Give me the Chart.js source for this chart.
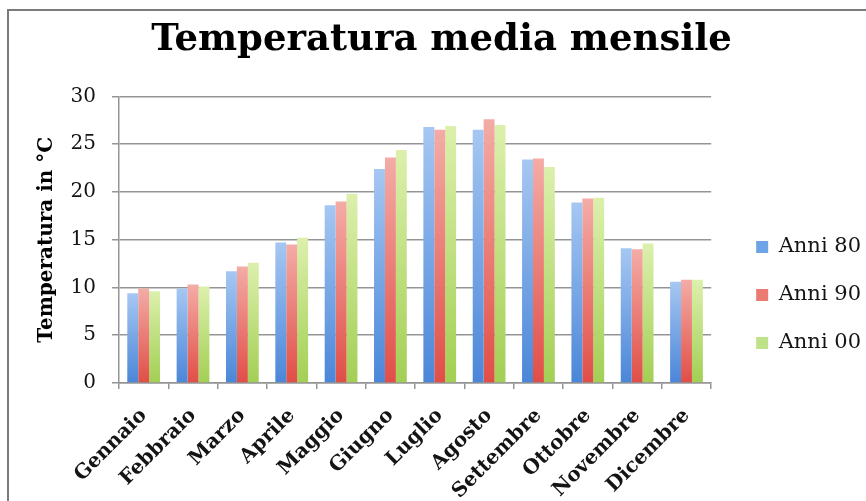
<!DOCTYPE html>
<html>
<head>
<meta charset="utf-8">
<title>Temperatura media mensile</title>
<script src="https://cdn.jsdelivr.net/npm/chart.js@4.4.1/dist/chart.umd.min.js"></script>
<style>
  html, body { margin: 0; padding: 0; background: #fff; width: 866px; height: 501px; overflow: hidden; }
  #frame { position: absolute; left: 7px; top: 9px; width: 880px; height: 520px;
           border-left: 2px solid #7b7b7b; border-top: 2px solid #7b7b7b; }
  #frame canvas { position: absolute; left: 0; top: 0; }
</style>
</head>
<body>
<div id="frame"><canvas id="grafico" width="866" height="490"></canvas></div>
<script>
// Mesi dell'anno (categorie)
const mesi = ['Gennaio', 'Febbraio', 'Marzo', 'Aprile', 'Maggio', 'Giugno',
              'Luglio', 'Agosto', 'Settembre', 'Ottobre', 'Novembre', 'Dicembre'];

// Temperature medie mensili (°C) per decennio
const anni80 = [9.4, 9.9, 11.7, 14.7, 18.6, 22.4, 26.8, 26.5, 23.4, 18.9, 14.1, 10.6];
const anni90 = [9.9, 10.3, 12.2, 14.5, 19.0, 23.6, 26.5, 27.6, 23.5, 19.3, 14.0, 10.8];
const anni00 = [9.6, 10.1, 12.6, 15.2, 19.8, 24.4, 26.9, 27.0, 22.6, 19.4, 14.6, 10.8];

// Etichette della legenda e dell'asse
const serie = ['Anni 80', 'Anni 90', 'Anni 00'];
const yTicks = [0, 5, 10, 15, 20, 25, 30];

const GRID = '#959595';
const TEXT = '#141414';

// colori: [chiaro in alto, scuro in basso, pieno per la legenda]
const palette = [
  ['#a6c7f2', '#4a86d8', '#6ea3e6'],
  ['#f4aca6', '#e04e46', '#eb7a72'],
  ['#dcf0ac', '#a2cf54', '#bfe288']
];

// sfumatura verticale su ogni singola barra
function sfumatura(chiaro, scuro) {
  return (ctx) => {
    const chart = ctx.chart;
    const y = chart.scales && chart.scales.y;
    if (!chart.chartArea || !y || ctx.type !== 'data') return scuro;
    const base = y.getPixelForValue(0);
    const cima = y.getPixelForValue(ctx.raw);
    if (!isFinite(base) || !isFinite(cima) || base === cima) return scuro;
    const g = chart.ctx.createLinearGradient(0, cima, 0, base);
    g.addColorStop(0, chiaro);
    g.addColorStop(1, scuro);
    return g;
  };
}

const valori = [anni80, anni90, anni00];
const datasets = valori.map((v, i) => ({
  label: serie[i],
  data: v,
  backgroundColor: sfumatura(palette[i][0], palette[i][1]),
  borderWidth: 0,
  barPercentage: 1.0,
  categoryPercentage: 0.664
}));

// sposta la legenda a destra e più in basso
const posLegenda = {
  id: 'posLegenda',
  afterLayout(chart) {
    const l = chart.legend;
    if (!l) return;
    const dx = 18, dy = 39;
    l.left += dx; l.right += dx;
    l.top += dy; l.bottom += dy;
  }
};

new Chart(document.getElementById('grafico'), {
  type: 'bar',
  data: { labels: mesi, datasets },
  plugins: [posLegenda],
  options: {
    responsive: false,
    animation: false,
    devicePixelRatio: 1,
    layout: { padding: { left: 21, right: 22, top: 0, bottom: 0 } },
    plugins: {
      title: {
        display: true,
        text: 'Temperatura media mensile',
        color: '#000',
        font: { family: 'DejaVu Serif', weight: 'bold', size: 37, lineHeight: 1.2 },
        padding: { top: 7, bottom: 34 }
      },
      legend: {
        position: 'right',
        align: 'center',
        labels: {
          color: TEXT,
          font: { family: 'DejaVu Serif', size: 21 },
          boxWidth: 12,
          boxHeight: 12,
          padding: 27,
          generateLabels(chart) {
            const items = Chart.defaults.plugins.legend.labels.generateLabels(chart);
            items.forEach((it, i) => {
              it.fillStyle = palette[i][2];
              it.strokeStyle = palette[i][2];
              it.lineWidth = 0;
            });
            return items;
          }
        }
      },
      tooltip: { enabled: false }
    },
    scales: {
      x: {
        afterFit(s) { s.height = 118; },
        grid: { display: true, drawOnChartArea: false, drawTicks: true, tickLength: 6, color: GRID, lineWidth: 1.5 },
        border: { display: true, color: GRID, width: 1.5 },
        ticks: {
          color: TEXT,
          font: { family: 'DejaVu Serif', weight: 'bold', size: 20 },
          minRotation: 45,
          maxRotation: 45,
          autoSkip: false,
          padding: 15
        }
      },
      y: {
        min: 0,
        max: 30,
        afterFit(s) { s.width = 89; },
        afterBuildTicks(s) { s.ticks = yTicks.map(v => ({ value: v })); },
        grid: { color: GRID, lineWidth: 1.5, tickLength: 7, drawTicks: true },
        border: { display: true, color: GRID, width: 1.5 },
        ticks: {
          color: TEXT,
          font: { family: 'DejaVu Serif', size: 20 },
          padding: 16
        },
        title: {
          display: true,
          text: 'Temperatura in °C',
          color: '#000',
          font: { family: 'DejaVu Serif', weight: 'bold', size: 20, lineHeight: 1.2 },
          padding: { top: 5, bottom: 0 }
        }
      }
    }
  }
});
</script>
</body>
</html>
